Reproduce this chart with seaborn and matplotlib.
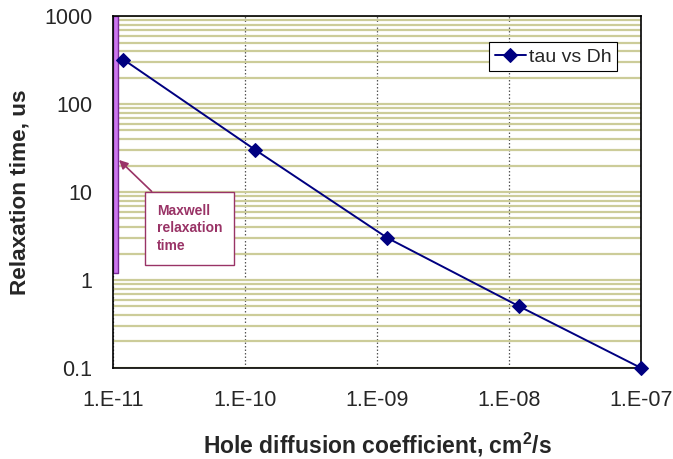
import matplotlib
matplotlib.use("Agg")
import matplotlib.pyplot as plt
from matplotlib.ticker import FixedLocator, LogLocator, NullFormatter
import seaborn as sns
import pandas as pd

# Relaxation time against hole diffusion coefficient
diffusion = [1.2e-11, 1.2e-10, 1.2e-9, 1.2e-8, 1.0e-7]   # cm^2/s
tau = [320, 30, 3, 0.5, 0.1]                              # us
series_name = "tau vs Dh"

# Maxwell relaxation band along the left edge
maxwell_x = [1.0e-11, 1.09e-11]
maxwell_y = [1.2, 1000]

x_ticks = [1e-11, 1e-10, 1e-9, 1e-8, 1e-7]
x_tick_labels = ["1.E-11", "1.E-10", "1.E-09", "1.E-08", "1.E-07"]
y_ticks = [0.1, 1, 10, 100, 1000]
y_tick_labels = ["0.1", "1", "10", "100", "1000"]

sns.set_style("white")
plt.rcParams["font.family"] = ["Liberation Sans", "DejaVu Sans"]
plt.rcParams["mathtext.fontset"] = "custom"
plt.rcParams["mathtext.rm"] = "Liberation Sans:bold"
plt.rcParams["mathtext.default"] = "rm"

df = pd.DataFrame({"D": diffusion, "tau": tau, "series": series_name})

fig = plt.figure(figsize=(6.73, 4.59), dpi=100)
ax = fig.add_axes([0.1679, 0.1983, 0.9525 - 0.1679, 0.9651 - 0.1983])
ax.set_facecolor("white")

ax.set_xscale("log")
ax.set_yscale("log")
ax.set_xlim(1e-11, 1e-7)
ax.set_ylim(0.1, 1000)

# Horizontal gridlines at every major and minor decade step
grid_color = "#cccc99"
ax.yaxis.set_minor_locator(LogLocator(base=10, subs=range(2, 10), numticks=20))
ax.yaxis.set_minor_formatter(NullFormatter())
ax.grid(True, which="both", axis="y", color=grid_color, linewidth=1.6, linestyle="-")
ax.grid(True, which="major", axis="x", color="#555555", linewidth=0.9, linestyle=(0, (1.2, 1.6)))
ax.xaxis.set_minor_locator(FixedLocator([]))
ax.set_axisbelow(True)

ax.fill_between(maxwell_x, maxwell_y[0], maxwell_y[1], facecolor="#cc77ee",
                edgecolor="#7a2a9a", linewidth=1.0, zorder=2)

sns.lineplot(data=df, x="D", y="tau", hue="series", palette=["#000080"],
             marker="D", markersize=7, markeredgecolor="#000080",
             linewidth=1.4, ax=ax, zorder=3, clip_on=False)

ax.xaxis.set_major_locator(FixedLocator(x_ticks))
ax.set_xticklabels(x_tick_labels)
ax.yaxis.set_major_locator(FixedLocator(y_ticks))
ax.set_yticklabels(y_tick_labels)
ax.tick_params(axis="both", which="major", direction="out", length=5.8, width=1.0,
               color="black", labelsize=15.5)
ax.tick_params(axis="x", pad=10)
ax.tick_params(axis="y", pad=9)
ax.tick_params(axis="y", which="minor", length=0)

for side in ax.spines.values():
    side.set_visible(True)
    side.set_color("black")
    side.set_linewidth(1.2)

ax.set_xlabel("Hole diffusion coefficient, cm$^2$/s", fontsize=16.5,
              fontweight="bold", labelpad=14)
ax.set_ylabel("Relaxation time, us", fontsize=16.2, fontweight="bold", labelpad=10)

leg = ax.legend(loc="upper right", bbox_to_anchor=(0.9545, 0.926), fontsize=14,
                frameon=True, fancybox=False, edgecolor="black", framealpha=1,
                handlelength=1.6, borderpad=0.3, handletextpad=0.15,
                borderaxespad=0)
leg.get_frame().set_linewidth(0.8)

ax.annotate("Maxwell\nrelaxation\ntime", xy=(0.0114, 0.591), xycoords="axes fraction",
            xytext=(0.1449, 0.3963), textcoords="axes fraction",
            fontsize=10, fontweight="bold", color="#993366",
            ha="center", va="center", multialignment="left", linespacing=1.35,
            bbox=dict(boxstyle="square,pad=0.85", facecolor="white",
                      edgecolor="#993366", linewidth=1.0),
            arrowprops=dict(arrowstyle="-|>", color="#993366", linewidth=1.2,
                            mutation_scale=13, shrinkA=0, shrinkB=0,
                            relpos=(0.116, 1.0)),
            zorder=4)

fig.savefig("out.png", dpi=100, facecolor="white")
